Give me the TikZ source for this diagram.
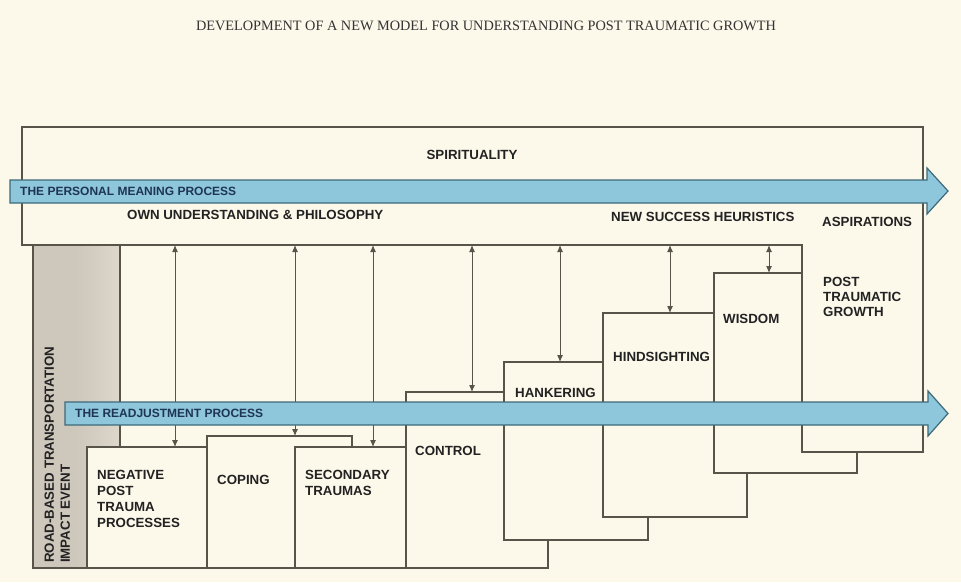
\documentclass[tikz,border=0pt]{standalone}
\usepackage{fontspec}
\setmainfont{Liberation Sans}
\newfontfamily\titlefont{Liberation Serif}
\usetikzlibrary{arrows.meta}
\definecolor{bg}{HTML}{FCF8EA}
\definecolor{linec}{HTML}{59544A}
\definecolor{greybar}{HTML}{CEC7BB}
\definecolor{greylight}{HTML}{DDD7CC}
\definecolor{bandfill}{HTML}{8EC6DB}
\definecolor{bandline}{HTML}{3E6A7A}
\definecolor{bandtext}{HTML}{1E3556}
\definecolor{txt}{HTML}{222222}
\definecolor{titlec}{HTML}{333333}
\begin{document}
\begin{tikzpicture}[x=1pt,y=-1pt,
  box/.style={draw=linec, fill=bg, line width=1.1pt, inner sep=0pt, outer sep=0pt, anchor=north west},
  region/.style={inner sep=0pt, outer sep=0pt, anchor=north west},
  lbl/.style={font=\fontsize{13.3}{16}\selectfont\bfseries, text=txt, inner sep=0pt, align=left},
  bandlbl/.style={font=\fontsize{12}{14}\selectfont\bfseries, text=bandtext, inner sep=0pt, anchor=west},
  dbl/.style={draw=linec, line width=1pt, {Latex[length=7pt,width=6pt]}-{Latex[length=7pt,width=6pt]}},
  band/.style={fill=bandfill, draw=bandline, line width=1.2pt, line join=miter}]

\fill[bg] (0,0) rectangle (961,582);
\useasboundingbox (0,0) rectangle (961,582);

% title
\node[font=\titlefont\fontsize{14.3}{16}\selectfont, text=titlec, inner sep=0pt] (title) at (486,26)
  {DEVELOPMENT OF A NEW MODEL FOR UNDERSTANDING POST TRAUMATIC GROWTH};

% impact event bar
\node[box, left color=greybar, right color=greylight, middle color=greybar, minimum width=87pt, minimum height=323pt] (event) at (33,245) {};

% lower boxes (stacked like cards)
\node[box, minimum width=120pt, minimum height=121pt] (neg) at (87,447) {};
\node[box, minimum width=145pt, minimum height=132pt] (coping) at (207,436) {};
\node[box, minimum width=111pt, minimum height=121pt] (second) at (295,447) {};
\node[box, minimum width=142pt, minimum height=176pt] (control) at (406,392) {};
\node[box, minimum width=144pt, minimum height=178pt] (hanker) at (504,362) {};
\node[box, minimum width=144pt, minimum height=204pt] (hind) at (603,313) {};
\node[box, minimum width=143pt, minimum height=200pt] (wisdom) at (714,273) {};

% spirituality box with post traumatic growth extension
\draw[draw=linec, fill=bg, line width=1.1pt]
  (22,127) -- (923,127) -- (923,452) -- (802,452) -- (802,245) -- (22,245) -- cycle;
\node[region, minimum width=901pt, minimum height=118pt] (spirit) at (22,127) {};
\node[region, minimum width=121pt, minimum height=207pt] (ptg) at (802,245) {};

% vertical two-way links
\coordinate (u1) at (175,245);
\coordinate (u2) at (295,245);
\coordinate (u3) at (373,245);
\coordinate (u4) at (472,245);
\coordinate (u5) at (560,245);
\coordinate (u6) at (670,245);
\coordinate (u7) at (769,245);
\draw[dbl] (u1) -- (u1 |- neg.north);
\draw[dbl] (u2) -- (u2 |- coping.north);
\draw[dbl] (u3) -- (u3 |- second.north);
\draw[dbl] (u4) -- (u4 |- control.north);
\draw[dbl] (u5) -- (u5 |- hanker.north);
\draw[dbl] (u6) -- (u6 |- hind.north);
\draw[dbl] (u7) -- (u7 |- wisdom.north);

% process bands
\draw[band] (10,180) -- (927,180) -- (927,168) -- (948,191) -- (927,214) -- (927,203) -- (10,203) -- cycle;
\draw[band] (65,402) -- (928,402) -- (928,391) -- (948,413.5) -- (928,436) -- (928,425) -- (65,425) -- cycle;

% labels
\node[lbl] (spiritlbl) at (472,155) {SPIRITUALITY};
\node[bandlbl] (pmp) at (20,191) {THE PERSONAL MEANING PROCESS};
\node[lbl, anchor=west] (own) at (127,215) {OWN UNDERSTANDING \& PHILOSOPHY};
\node[lbl, anchor=west] (nsh) at (611,217) {NEW SUCCESS HEURISTICS};
\node[lbl, anchor=west] (asp) at (822,222) {ASPIRATIONS};
\node[lbl, anchor=north west, font=\fontsize{13.3}{15}\selectfont\bfseries] (ptglbl) at (823,277.4) {POST\\TRAUMATIC\\GROWTH};
\node[lbl, anchor=west] (wislbl) at (723,319) {WISDOM};
\node[lbl, anchor=west] (hindlbl) at (613,357) {HINDSIGHTING};
\node[lbl, anchor=west] (hanklbl) at (515,393) {HANKERING};
\node[lbl, anchor=west] (ctrllbl) at (415,451) {CONTROL};
\node[lbl, anchor=north west] (neglbl) at (97,470.4) {NEGATIVE\\POST\\TRAUMA\\PROCESSES};
\node[lbl, anchor=west] (coplbl) at (217,480) {COPING};
\node[lbl, anchor=north west] (seclbl) at (305,470.4) {SECONDARY\\TRAUMAS};
\node[bandlbl] (rap) at (75,413.5) {THE READJUSTMENT PROCESS};
\node[lbl, rotate=90, anchor=north west] (eventlbl) at (44.5,563) {ROAD-BASED TRANSPORTATION\\IMPACT EVENT};
\end{tikzpicture}
\end{document}
